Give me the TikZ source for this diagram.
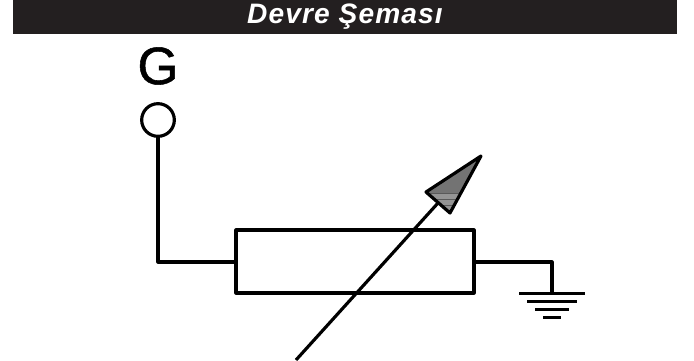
\documentclass[tikz,border=0pt]{standalone}
\usepackage{fontspec}
\setmainfont{Liberation Sans}
\newfontfamily\titlefont[LetterSpace=4]{Liberation Sans}
\newfontfamily\pinfont[FakeBold=1]{Liberation Sans}
\definecolor{barblack}{HTML}{231F20}
\tikzset{
    wire/.style={line width=0.095cm, line join=round},
    groundbar/.style={line width=0.09cm},
}
\begin{document}
\begin{tikzpicture}[x=0.03cm, y=-0.03cm]
        \useasboundingbox (0, 0) rectangle (694, 360);
        \node[fill=barblack, minimum width=19.92cm, minimum height=1.02cm, inner sep=0pt] (bar) at (345, 17) {};
        \node[text=white, font=\titlefont\bfseries\itshape\fontsize{24}{26}\selectfont] (title) at (345, 17) {Devre Şeması};
        \node[font=\pinfont\fontsize{45}{50}\selectfont, inner sep=0pt] (G) at (158, 66) {G};
        \node[draw, wire, circle, minimum size=0.98cm, inner sep=0pt] (term) at (158, 120) {};
        \node[draw, wire, minimum width=7.14cm, minimum height=1.89cm, inner sep=0pt] (res) at (355, 261.5) {};
        \coordinate (left) at (158, 262);
        \coordinate (right) at (552, 262);
        \coordinate (gnd) at (552, 293);
        \draw[wire] (term) -- (left) -- (left -| res.west);
        \draw[wire] (right -| res.east) -- (right) -- (gnd);
        % ground bars
        \foreach \y/\w in {293/33, 301/25, 309/17, 317/9} {
            \draw[groundbar] (552-\w, \y) -- (552+\w, \y);
        }
        % adjustable arrow
        \coordinate (tail) at (296, 360);
        \coordinate (tip) at (481, 156);
        \coordinate (headL) at (426, 192);
        \coordinate (headR) at (450, 213);
        \coordinate (headM) at (438, 203);
        \draw[wire] (tail) -- (headM);
        \fill[black!55] (tip) -- (headL) -- (headR) -- cycle;
        \begin{scope}
            \clip (tip) -- (headL) -- (headR) -- cycle;
            \fill[black!42] (420, 193) rectangle (460, 215);
            \foreach \y in {193, 199, 205} {
                \draw[black!65, line width=0.03cm] (420, \y) -- (460, \y);
            }
        \end{scope}
        \draw[wire] (tip) -- (headL) -- (headR) -- cycle;
    \end{tikzpicture}
\end{document}
